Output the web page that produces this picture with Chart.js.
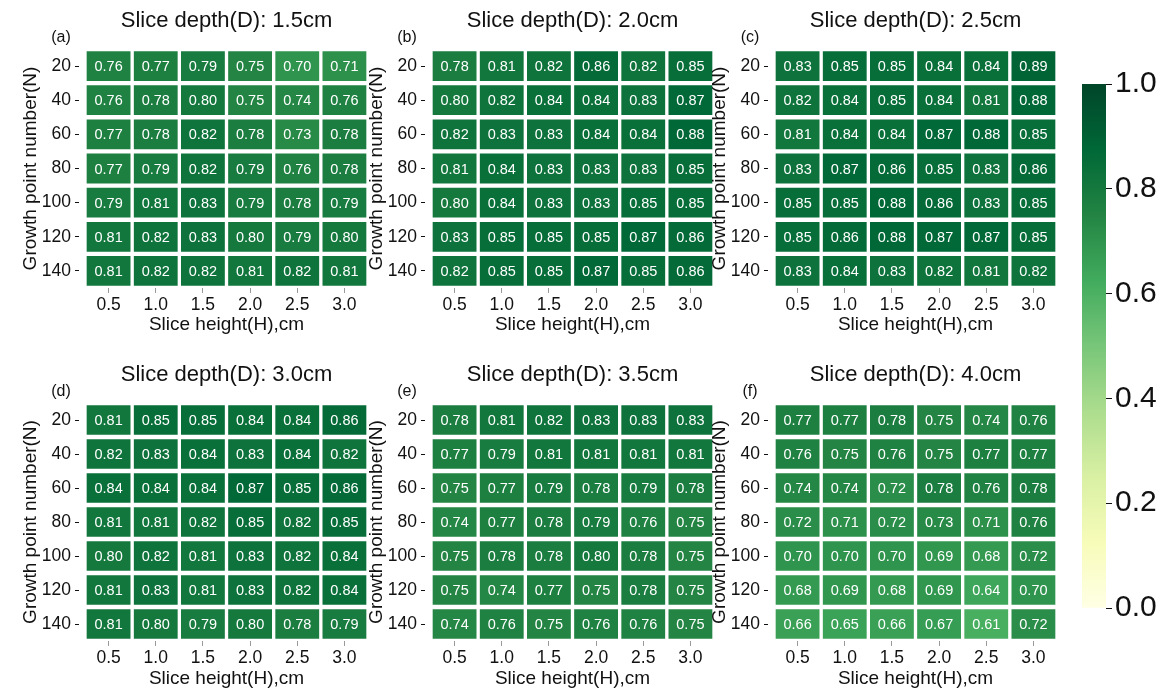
<!DOCTYPE html>
<html>
<head>
<meta charset="utf-8">
<title>Slice depth heatmaps</title>
<script src="https://cdn.jsdelivr.net/npm/chart.js@4.4.1/dist/chart.umd.min.js"></script>
<style>
  html, body { margin: 0; padding: 0; background: #ffffff; }
  #stage { position: relative; width: 1172px; height: 688px; overflow: hidden; background: #ffffff; }
  #stage canvas { position: absolute; }
</style>
</head>
<body>
<div id="stage"></div>
<script>
// ---- data ----
const sliceHeights = ['0.5', '1.0', '1.5', '2.0', '2.5', '3.0'];
const growthPoints = ['20', '40', '60', '80', '100', '120', '140'];
const sliceDepths = ['1.5', '2.0', '2.5', '3.0', '3.5', '4.0'];
const panelTags = ['(a)', '(b)', '(c)', '(d)', '(e)', '(f)'];

const depth15 = [
  [0.76, 0.77, 0.79, 0.75, 0.70, 0.71],
  [0.76, 0.78, 0.80, 0.75, 0.74, 0.76],
  [0.77, 0.78, 0.82, 0.78, 0.73, 0.78],
  [0.77, 0.79, 0.82, 0.79, 0.76, 0.78],
  [0.79, 0.81, 0.83, 0.79, 0.78, 0.79],
  [0.81, 0.82, 0.83, 0.80, 0.79, 0.80],
  [0.81, 0.82, 0.82, 0.81, 0.82, 0.81]
];
const depth20 = [
  [0.78, 0.81, 0.82, 0.86, 0.82, 0.85],
  [0.80, 0.82, 0.84, 0.84, 0.83, 0.87],
  [0.82, 0.83, 0.83, 0.84, 0.84, 0.88],
  [0.81, 0.84, 0.83, 0.83, 0.83, 0.85],
  [0.80, 0.84, 0.83, 0.83, 0.85, 0.85],
  [0.83, 0.85, 0.85, 0.85, 0.87, 0.86],
  [0.82, 0.85, 0.85, 0.87, 0.85, 0.86]
];
const depth25 = [
  [0.83, 0.85, 0.85, 0.84, 0.84, 0.89],
  [0.82, 0.84, 0.85, 0.84, 0.81, 0.88],
  [0.81, 0.84, 0.84, 0.87, 0.88, 0.85],
  [0.83, 0.87, 0.86, 0.85, 0.83, 0.86],
  [0.85, 0.85, 0.88, 0.86, 0.83, 0.85],
  [0.85, 0.86, 0.88, 0.87, 0.87, 0.85],
  [0.83, 0.84, 0.83, 0.82, 0.81, 0.82]
];
const depth30 = [
  [0.81, 0.85, 0.85, 0.84, 0.84, 0.86],
  [0.82, 0.83, 0.84, 0.83, 0.84, 0.82],
  [0.84, 0.84, 0.84, 0.87, 0.85, 0.86],
  [0.81, 0.81, 0.82, 0.85, 0.82, 0.85],
  [0.80, 0.82, 0.81, 0.83, 0.82, 0.84],
  [0.81, 0.83, 0.81, 0.83, 0.82, 0.84],
  [0.81, 0.80, 0.79, 0.80, 0.78, 0.79]
];
const depth35 = [
  [0.78, 0.81, 0.82, 0.83, 0.83, 0.83],
  [0.77, 0.79, 0.81, 0.81, 0.81, 0.81],
  [0.75, 0.77, 0.79, 0.78, 0.79, 0.78],
  [0.74, 0.77, 0.78, 0.79, 0.76, 0.75],
  [0.75, 0.78, 0.78, 0.80, 0.78, 0.75],
  [0.75, 0.74, 0.77, 0.75, 0.78, 0.75],
  [0.74, 0.76, 0.75, 0.76, 0.76, 0.75]
];
const depth40 = [
  [0.77, 0.77, 0.78, 0.75, 0.74, 0.76],
  [0.76, 0.75, 0.76, 0.75, 0.77, 0.77],
  [0.74, 0.74, 0.72, 0.78, 0.76, 0.78],
  [0.72, 0.71, 0.72, 0.73, 0.71, 0.76],
  [0.70, 0.70, 0.70, 0.69, 0.68, 0.72],
  [0.68, 0.69, 0.68, 0.69, 0.64, 0.70],
  [0.66, 0.65, 0.66, 0.67, 0.61, 0.72]
];
const colorbarTicks = [0.0, 0.2, 0.4, 0.6, 0.8, 1.0];

const panelValues = [depth15, depth20, depth25, depth30, depth35, depth40];

// ---- colour map (YlGn, 9 anchor colours spread over 0..1) ----
const ylgnStops = ['#ffffe5', '#f7fcb9', '#d9f0a3', '#addd8e', '#78c679',
                   '#41ab5d', '#238443', '#006837', '#004529'];
function hexToRgb(h) {
  return [parseInt(h.slice(1, 3), 16), parseInt(h.slice(3, 5), 16), parseInt(h.slice(5, 7), 16)];
}
function ylgn(v) {
  const t = Math.min(1, Math.max(0, v)) * (ylgnStops.length - 1);
  const i = Math.min(ylgnStops.length - 2, Math.floor(t));
  const f = t - i;
  const a = hexToRgb(ylgnStops[i]), b = hexToRgb(ylgnStops[i + 1]);
  const c = a.map((x, k) => Math.round(x + (b[k] - x) * f));
  return `rgb(${c[0]},${c[1]},${c[2]})`;
}

const FONT = '"Liberation Sans", Arial, Helvetica, sans-serif';
Chart.defaults.font.family = FONT;
Chart.defaults.color = '#111111';

// ---- layout of the six panels (plot area rectangles on the page) ----
const PLOT_W = 283;
const colLefts = [85, 431, 774];
const rowTops = [49, 403];
const rowBottoms = [288, 641];
const canvasRows = [{ top: 0, height: 345, titlePad: 10.5 }, { top: 352, height: 336, titlePad: 0 }];
const Y_AXIS_W = 85;

const stage = document.getElementById('stage');

function makeCanvas(left, top, width, height) {
  const c = document.createElement('canvas');
  c.width = width; c.height = height;
  c.style.left = left + 'px'; c.style.top = top + 'px';
  c.style.width = width + 'px'; c.style.height = height + 'px';
  stage.appendChild(c);
  return c;
}

// writes each cell's value in its centre, plus the panel title and tag
const cellTextPlugin = {
  id: 'cellText',
  afterDatasetsDraw(chart) {
    const vals = chart.options.plugins.cellText.values;
    const ctx = chart.ctx;
    ctx.save();
    ctx.font = '14.5px ' + FONT;
    ctx.fillStyle = '#ffffff';
    ctx.textAlign = 'center';
    ctx.textBaseline = 'middle';
    chart.data.datasets.forEach((ds, r) => {
      chart.getDatasetMeta(r).data.forEach((bar, c) => {
        const p = bar.getCenterPoint();
        ctx.fillText(vals[r][c].toFixed(2), p.x, p.y + 1);
      });
    });
    ctx.restore();
  },
  afterDraw(chart) {
    const o = chart.options.plugins.cellText;
    const a = chart.chartArea;
    const ctx = chart.ctx;
    ctx.save();
    ctx.fillStyle = '#111111';
    ctx.textAlign = 'center';
    ctx.textBaseline = 'middle';
    ctx.font = '22px ' + FONT;
    ctx.fillText(o.title, (a.left + a.right) / 2, a.top - 28);
    ctx.font = '16px ' + FONT;
    ctx.fillText(o.tag, a.left - 24, a.top - 11);
    ctx.restore();
  }
};

panelValues.forEach((vals, p) => {
  const col = p % 3, row = Math.floor(p / 3);
  const L = colLefts[col], R = L + PLOT_W;
  const T = rowTops[row], B = rowBottoms[row];
  const cr = canvasRows[row];
  const cx = L - Y_AXIS_W;
  const cw = Y_AXIS_W + PLOT_W + 4;
  const canvas = makeCanvas(cx, cr.top, cw, cr.height);

  const datasets = growthPoints.map((g, r) => ({
    label: g,
    data: sliceHeights.map(() => [r - 0.5, r + 0.5]),
    backgroundColor: vals[r].map(v => ylgn(v)),
    borderColor: '#ffffff',
    borderWidth: { top: 2.5, bottom: 2.5, left: 2, right: 2 },
    borderSkipped: false,
    grouped: false,
    barPercentage: 1,
    categoryPercentage: 1
  }));

  new Chart(canvas, {
    type: 'bar',
    data: { labels: sliceHeights, datasets },
    options: {
      responsive: false,
      animation: false,
      devicePixelRatio: 1,
      layout: { padding: { left: 0, top: T - cr.top, right: cx + cw - R, bottom: 0 } },
      plugins: {
        legend: { display: false },
        tooltip: { enabled: false },
        cellText: { values: vals, title: `Slice depth(D): ${sliceDepths[p]}cm`, tag: panelTags[p] }
      },
      scales: {
        x: {
          type: 'category',
          offset: true,
          grid: { display: true, drawOnChartArea: false, offset: false, tickLength: 5, tickColor: '#9a9a9a', tickWidth: 1 },
          border: { display: false },
          ticks: { font: { size: 17.5 }, color: '#111111', padding: 2, maxRotation: 0 },
          title: {
            display: true, text: 'Slice height(H),cm', color: '#111111',
            font: { size: 19, lineHeight: 1 }, padding: { top: 0, bottom: cr.titlePad }
          },
          afterFit(s) { s.height = cr.top + cr.height - B; }
        },
        y: {
          type: 'linear',
          min: -0.5, max: 6.5, reverse: true,
          afterBuildTicks(s) { s.ticks = growthPoints.map((_, i) => ({ value: i })); },
          grid: { display: true, drawOnChartArea: false, tickLength: 10, tickColor: '#111111', tickWidth: 1, tickBorderDash: [4, 6] },
          border: { display: false },
          ticks: { font: { size: 17.5 }, color: '#111111', padding: 4, callback: v => growthPoints[v] },
          title: {
            display: true, text: 'Growth point number(N)', color: '#111111',
            font: { size: 19, lineHeight: 1 }, padding: { top: 21, bottom: 0 }
          },
          afterFit(s) { s.width = Y_AXIS_W; }
        }
      }
    },
    plugins: [cellTextPlugin]
  });
});

// ---- colour bar ----
const cbCanvas = makeCanvas(1060, 60, 112, 580);
new Chart(cbCanvas, {
  type: 'bar',
  data: {
    labels: ['scale'],
    datasets: [{
      data: [[0, 1]],
      backgroundColor(ctx) {
        const a = ctx.chart.chartArea;
        if (!a) return '#238443';
        const g = ctx.chart.ctx.createLinearGradient(0, a.bottom, 0, a.top);
        ylgnStops.forEach((c, i) => g.addColorStop(i / (ylgnStops.length - 1), c));
        return g;
      },
      borderWidth: 0,
      barPercentage: 1,
      categoryPercentage: 1
    }]
  },
  options: {
    responsive: false,
    animation: false,
    devicePixelRatio: 1,
    layout: { padding: { left: 22, top: 24, right: 0, bottom: 32 } },
    plugins: { legend: { display: false }, tooltip: { enabled: false } },
    scales: {
      x: { display: false },
      y: {
        position: 'right',
        min: 0, max: 1,
        afterBuildTicks(s) { s.ticks = colorbarTicks.map(v => ({ value: v })); },
        grid: { display: true, drawOnChartArea: false, tickLength: 6, tickColor: '#111111', tickWidth: 1 },
        border: { display: false },
        ticks: { font: { size: 30 }, color: '#111111', padding: 3, callback: v => v.toFixed(1) },
        afterFit(s) { s.width = 66; }
      }
    }
  }
});
</script>
</body>
</html>
